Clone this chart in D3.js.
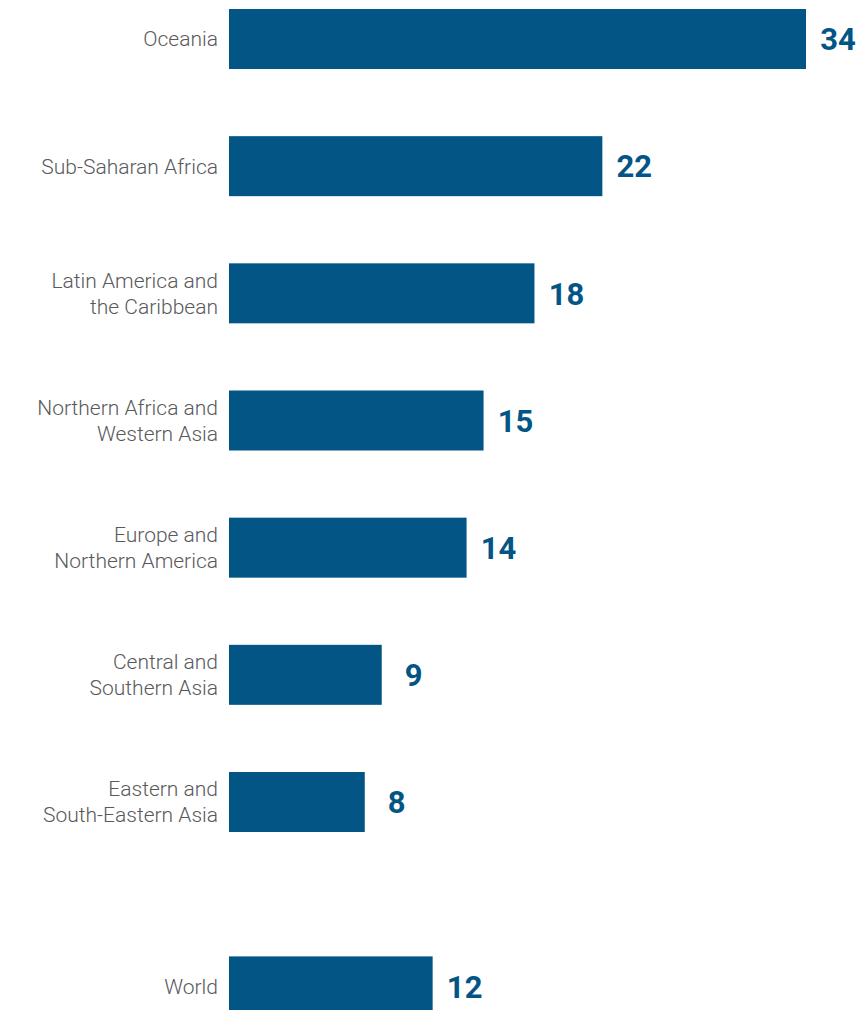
<!DOCTYPE html>
<html>
<head>
<meta charset="utf-8">
<script src="https://cdn.jsdelivr.net/npm/d3@7"></script>
<style>
  body { margin: 0; background: #fff; }
  svg { display: block; }
</style>
</head>
<body>
<div id="chart"></div>
<script>
// region names (line-split as in the figure) and values
const regions = [
  ["Oceania"],
  ["Sub-Saharan Africa"],
  ["Latin America and", "the Caribbean"],
  ["Northern Africa and", "Western Asia"],
  ["Europe and", "Northern America"],
  ["Central and", "Southern Asia"],
  ["Eastern and", "South-Eastern Asia"]
];
const values = [34, 22, 18, 15, 14, 9, 8];
const worldLabel = ["World"];
const worldValue = 12;

const width = 862, height = 1010;
const barColor = "#035586";
const barH = 60;
const left = 229;

const rows = regions.map((lab, i) => ({ label: lab, value: values[i], pos: i }));
// World sits apart after a wider gap
rows.push({ label: worldLabel, value: worldValue, pos: regions.length + 0.45 });

const x = d3.scaleLinear().domain([0, 34]).range([left, 806]);
const y = d3.scaleLinear().domain([0, regions.length - 1]).range([39, 802]);

const svg = d3.select("#chart").append("svg")
  .attr("width", width)
  .attr("height", height);

const row = svg.append("g")
  .selectAll("g")
  .data(rows)
  .join("g")
  .attr("transform", d => `translate(0,${y(d.pos)})`);

row.append("rect")
  .attr("x", x(0))
  .attr("y", -barH / 2)
  .attr("width", d => x(d.value) - x(0))
  .attr("height", barH)
  .attr("fill", barColor);

row.append("text")
  .attr("text-anchor", "end")
  .attr("font-family", "Roboto, sans-serif")
  .attr("font-weight", 300)
  .attr("font-size", "21px")
  .attr("fill", "#58595b")
  .selectAll("tspan")
  .data(d => d.label.map((t, i, a) => ({ t, dy: (i - (a.length - 1) / 2) * 26 })))
  .join("tspan")
  .attr("x", left - 11)
  .attr("y", d => d.dy)
  .attr("dy", "0.35em")
  .text(d => d.t);

// value labels are centred a fixed distance past the bar end
row.append("text")
  .attr("x", d => x(d.value) + 32)
  .attr("dy", "0.36em")
  .attr("text-anchor", "middle")
  .attr("font-family", "Roboto, sans-serif")
  .attr("font-weight", 700)
  .attr("font-size", "31px")
  .attr("fill", barColor)
  .text(d => d.value);
</script>
</body>
</html>
